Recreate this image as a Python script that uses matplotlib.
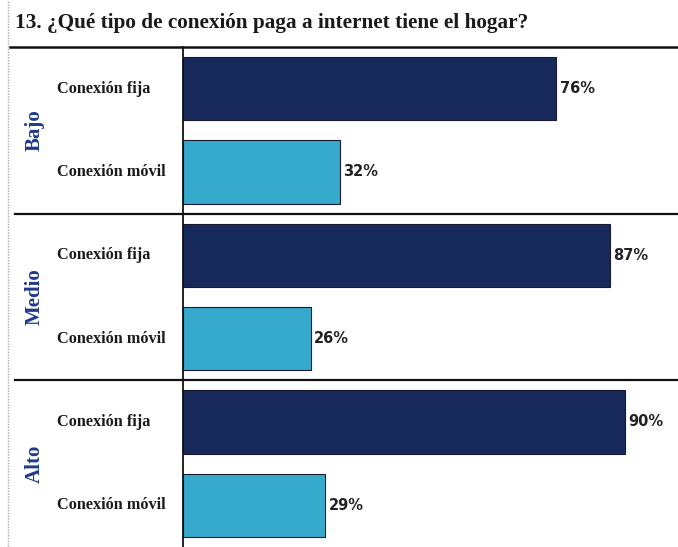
import matplotlib.pyplot as plt
from matplotlib.lines import Line2D
from matplotlib.transforms import blended_transform_factory

groups = ["Bajo", "Medio", "Alto"]
tipos = ["Conexión fija", "Conexión móvil"]
fija = [76, 87, 90]
movil = [32, 26, 29]

navy = "#16295a"
cyan = "#36aacd"

W, H = 678, 547
fig = plt.figure(figsize=(W / 100, H / 100), dpi=100)
fig.patch.set_facecolor("white")

# plot area: left edge at the vertical axis line, top under the title rule
ax = fig.add_axes([183 / W, 0, 1 - 183 / W, (H - 47) / H])
ax.set_xlim(0, 100 * (W - 183) / 491)
ax.set_ylim(6, 0)

for i, g in enumerate(groups):
    vals = [fija[i], movil[i]]
    cols = [navy, cyan]
    for j in range(2):
        y = 2 * i + 0.5 + j
        ax.barh(y, vals[j], height=0.76, color=cols[j], edgecolor="#1a1a2a",
                linewidth=0.8)
        ax.text(vals[j] + 0.7, y, f"{vals[j]}%", va="center", ha="left",
                fontsize=10.5, fontweight="bold", color="#222222",
                family="DejaVu Sans")

for s in ["top", "right", "bottom"]:
    ax.spines[s].set_visible(False)
ax.spines["left"].set_linewidth(1.3)
ax.spines["left"].set_color("#111111")
ax.set_xticks([])
ax.set_yticks([])

tr = blended_transform_factory(fig.transFigure, ax.transData)
for i, g in enumerate(groups):
    ax.text(35 / W, 2 * i + 1, g, transform=tr, rotation=90, va="center",
            ha="center", fontsize=15, fontweight="bold", color="#1f3a8a",
            family="Liberation Serif")
    for j, t in enumerate(tipos):
        ax.text(57 / W, 2 * i + 0.5 + j, t, transform=tr, va="center",
                ha="left", fontsize=11.7, fontweight="bold", color="#1a1a1a",
                family="Liberation Serif")

# rules between the groups
for yb in [2, 4]:
    ax.add_line(Line2D([15 / W, 1], [yb, yb], transform=tr, color="#111111",
                       linewidth=1.6, clip_on=False))

# title rule and left border
fig.add_artist(Line2D([10 / W, 1], [1 - 47 / H, 1 - 47 / H], color="#111111",
                      linewidth=1.8))
fig.add_artist(Line2D([8 / W, 8 / W], [0, 1], color="#aaaaaa", linewidth=1,
                      linestyle=(0, (1, 1))))

fig.text(15 / W, 1 - 23 / H, "13. ¿Qué tipo de conexión paga a internet tiene el hogar?",
         va="center", ha="left", fontsize=15.3, fontweight="bold",
         color="#1a1a1a", family="Liberation Serif")

fig.savefig("out.png", dpi=100)
